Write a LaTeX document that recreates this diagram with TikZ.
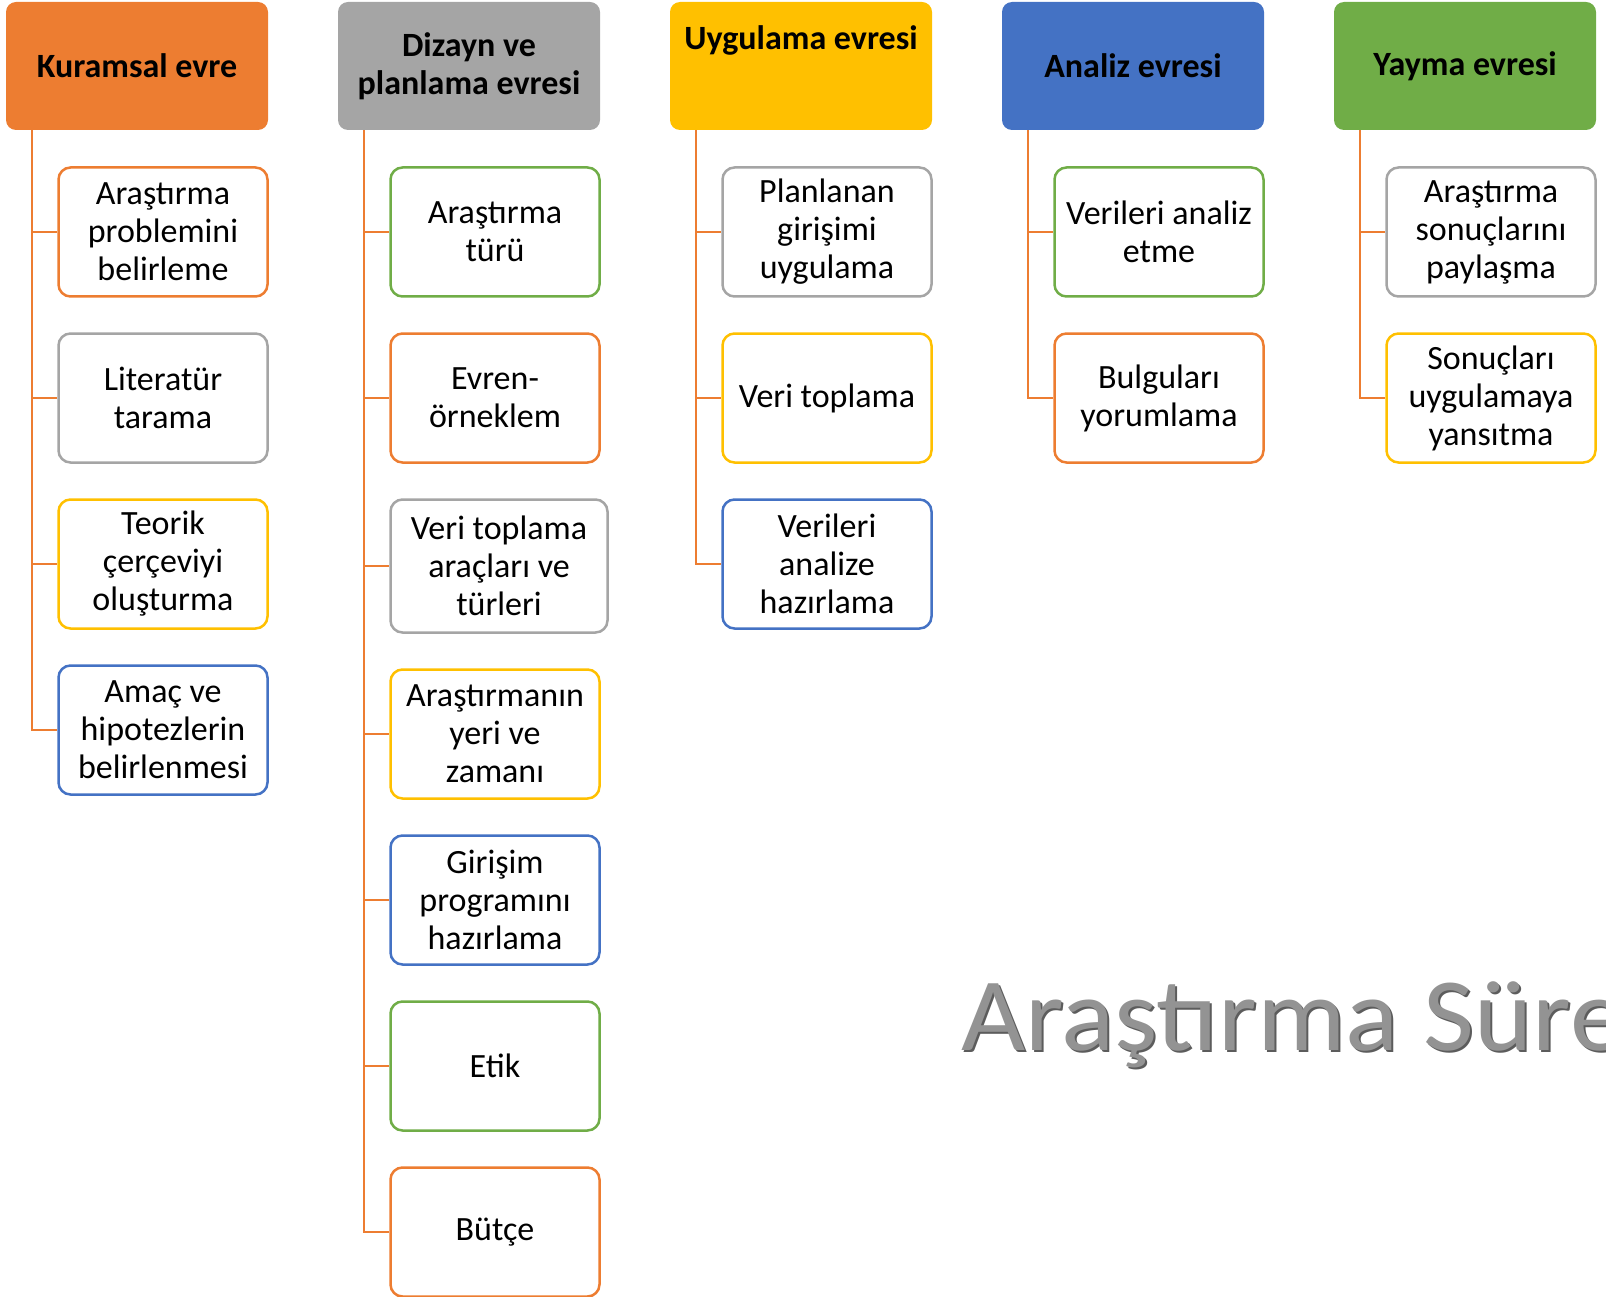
\documentclass[tikz,border=0pt]{standalone}
\usepackage{fontspec}
\setmainfont{Carlito}
\usepackage{tikz}
\usetikzlibrary{positioning}

\definecolor{evreorange}{HTML}{ED7D31}
\definecolor{evregray}{HTML}{A5A5A5}
\definecolor{evreyellow}{HTML}{FFC000}
\definecolor{evreblue}{HTML}{4472C4}
\definecolor{evregreen}{HTML}{70AD47}
\definecolor{titlegray}{HTML}{939393}
\definecolor{titleshade}{HTML}{5C5C5C}

\begin{document}
\begin{tikzpicture}[x=1pt, y=-1pt, every node/.style={align=center, font=\fontsize{34}{38}\selectfont}, node distance=166pt, phase/.style={rounded corners=10pt, minimum width=262pt, minimum height=128pt, font=\fontsize{34}{38}\selectfont\bfseries}, task/.style={draw=#1, line width=2.5pt, rounded corners=12pt, fill=white, minimum width=209pt, minimum height=129pt, inner sep=2pt}, conn/.style={evreorange, line width=2.2pt}, titletext/.style={anchor=base west, inner sep=0pt, font=\fontsize{104}{104}\selectfont, xscale=1.065, transform shape}]

				\useasboundingbox (0,0) rectangle (1606,1297);
				\clip (0,0) rectangle (1606,1297);

				% phase headers
				\node [phase, fill=evreorange] (K) at (137,66) {Kuramsal evre};
				\node [phase, fill=evregray] (D) [right of=K, node distance=332pt] {Dizayn ve\\planlama evresi};
				\node [phase, fill=evreyellow, text height=22pt, text depth=55pt] (U) [right of=D, node distance=332pt] {Uygulama evresi};
				\node [phase, fill=evreblue] (A) [right of=U, node distance=332pt] {Analiz evresi};
				\node [phase, fill=evregreen] (Y) [right of=A, node distance=332pt] {Yayma evresi};

				% Kuramsal evre
				\node [task=evreorange] (K1) [below of=K, xshift=26pt] {Araştırma\\problemini\\belirleme};
				\node [task=evregray] (K2) [below of=K1] {Literatür\\tarama};
				\node [task=evreyellow] (K3) [below of=K2] {Teorik\\çerçeviyi\\oluşturma};
				\node [task=evreblue] (K4) [below of=K3] {Amaç ve\\hipotezlerin\\belirlenmesi};

				% Dizayn ve planlama evresi
				\node [task=evregreen] (D1) [below of=D, xshift=26pt] {Araştırma\\türü};
				\node [task=evreorange] (D2) [below of=D1] {Evren-\\örneklem};
				\node [task=evregray] (D3) [below of=D2, xshift=4pt, yshift=-2pt, minimum width=217pt, minimum height=133pt]
					{Veri toplama\\araçları ve\\türleri};
				\node [task=evreyellow] (D4) [below of=D3, xshift=-4pt, yshift=-2pt] {Araştırmanın\\yeri ve\\zamanı};
				\node [task=evreblue] (D5) [below of=D4] {Girişim\\programını\\hazırlama};
				\node [task=evregreen] (D6) [below of=D5] {Etik};
				\node [task=evreorange] (D7) [below of=D6] {Bütçe};

				% Uygulama evresi
				\node [task=evregray] (U1) [below of=U, xshift=26pt] {Planlanan\\girişimi\\uygulama};
				\node [task=evreyellow] (U2) [below of=U1] {Veri toplama};
				\node [task=evreblue] (U3) [below of=U2] {Verileri\\analize\\hazırlama};

				% Analiz evresi
				\node [task=evregreen] (A1) [below of=A, xshift=26pt] {Verileri analiz\\etme};
				\node [task=evreorange] (A2) [below of=A1] {Bulguları\\yorumlama};

				% Yayma evresi
				\node [task=evregray] (Y1) [below of=Y, xshift=26pt] {Araştırma\\sonuçlarını\\paylaşma};
				\node [task=evreyellow] (Y2) [below of=Y1] {Sonuçları\\uygulamaya\\yansıtma};

				% connectors
				\foreach \c in {K1,K2,K3,K4}
					\draw[conn] ([xshift=26pt]K.south west) |- (\c.west);
				\foreach \c in {D1,D2,D3,D4,D5,D6,D7}
					\draw[conn] ([xshift=26pt]D.south west) |- (\c.west);
				\foreach \c in {U1,U2,U3}
					\draw[conn] ([xshift=26pt]U.south west) |- (\c.west);
				\foreach \c in {A1,A2}
					\draw[conn] ([xshift=26pt]A.south west) |- (\c.west);
				\foreach \c in {Y1,Y2}
					\draw[conn] ([xshift=26pt]Y.south west) |- (\c.west);

				% title
				\node [titletext, text=titleshade] (TS) at (963,1052) {Araştırma Süreci};
				\node [titletext, text=titlegray] (T) at (961,1050) {Araştırma Süreci};

			\end{tikzpicture}
\end{document}
